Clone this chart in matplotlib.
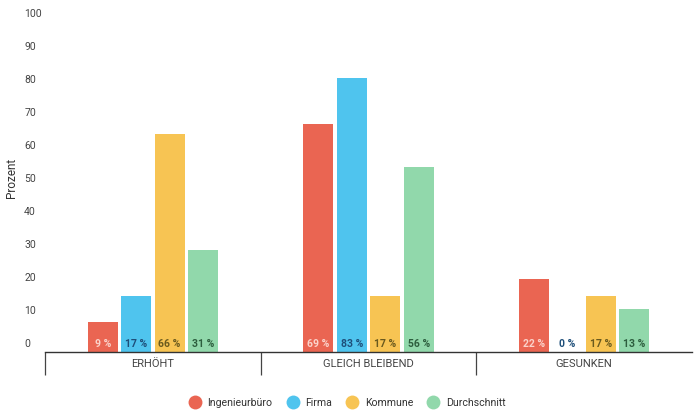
import numpy as np
import matplotlib
matplotlib.use("Agg")
import matplotlib.pyplot as plt
from matplotlib.lines import Line2D
from matplotlib.transforms import ScaledTranslation

plt.rcParams["font.family"] = ["Roboto", "DejaVu Sans"]

categories = ["ERHÖHT", "GLEICH BLEIBEND", "GESUNKEN"]
series = ["Ingenieurbüro", "Firma", "Kommune", "Durchschnitt"]
ingenieurbuero = [9, 69, 22]
firma = [17, 83, 0]
kommune = [66, 17, 17]
durchschnitt = [31, 56, 13]
yticks = list(range(0, 101, 10))

values = [ingenieurbuero, firma, kommune, durchschnitt]
colors = ["#EA6552", "#4FC4EE", "#F7C453", "#91D8AB"]
label_colors = ["#FBD3CB", "#1E4F7A", "#6A5A1E", "#2D5E3E"]

fig = plt.figure(figsize=(6.94, 4.17), dpi=100)
ax = fig.add_axes([45 / 694, 1 - 352 / 417, 647 / 694, 330 / 417])

x = np.arange(len(categories))
step = 0.155
width = 0.139
for i, (vals, col, lcol) in enumerate(zip(values, colors, label_colors)):
    pos = x + (i - 1.5) * step
    ax.bar(pos, vals, width=width, color=col, edgecolor="none")
    for px, v in zip(pos, vals):
        ax.text(px, 0.8, f"{v} %", ha="center", va="bottom",
                fontsize=7.5, color=lcol, fontweight="bold")

ax.set_xlim(-0.5, 2.5)
ax.set_ylim(0, 100)

for s in ["top", "right", "left"]:
    ax.spines[s].set_visible(False)
ax.spines["bottom"].set_color("#333333")
ax.spines["bottom"].set_linewidth(1.0)

ax.set_xticks(x)
ax.set_xticklabels(categories, fontsize=8, color="#444444")
ax.set_xticks([-0.5, 0.5, 1.5], minor=True)
ax.tick_params(axis="x", which="major", length=0, pad=5)
ax.tick_params(axis="x", which="minor", length=16.5, width=0.9,
               color="#444444", direction="out")

ax.set_yticks(yticks)
ax.set_yticklabels([str(t) for t in yticks], fontsize=7.5, color="#444444")
ax.tick_params(axis="y", length=0, pad=15)
offset = ScaledTranslation(0, 3 / 100, fig.dpi_scale_trans)
for lbl in ax.get_yticklabels():
    lbl.set_horizontalalignment("left")
    lbl.set_verticalalignment("bottom")
    lbl.set_transform(lbl.get_transform() + offset)

fig.text(12 / 694, 1 - 178 / 417, "Prozent", rotation=90, ha="center",
         va="center", fontsize=8.5, color="#333333")

handles = [Line2D([], [], marker="o", linestyle="none", markersize=10,
                  markerfacecolor=c, markeredgecolor="none") for c in colors]
fig.legend(handles, series, loc="center", bbox_to_anchor=(345 / 694, 1 - 403 / 417),
           ncol=4, frameon=False, fontsize=7.6, handletextpad=0.2,
           columnspacing=0.9, labelcolor="#333333")

fig.savefig("out.png", dpi=100)
